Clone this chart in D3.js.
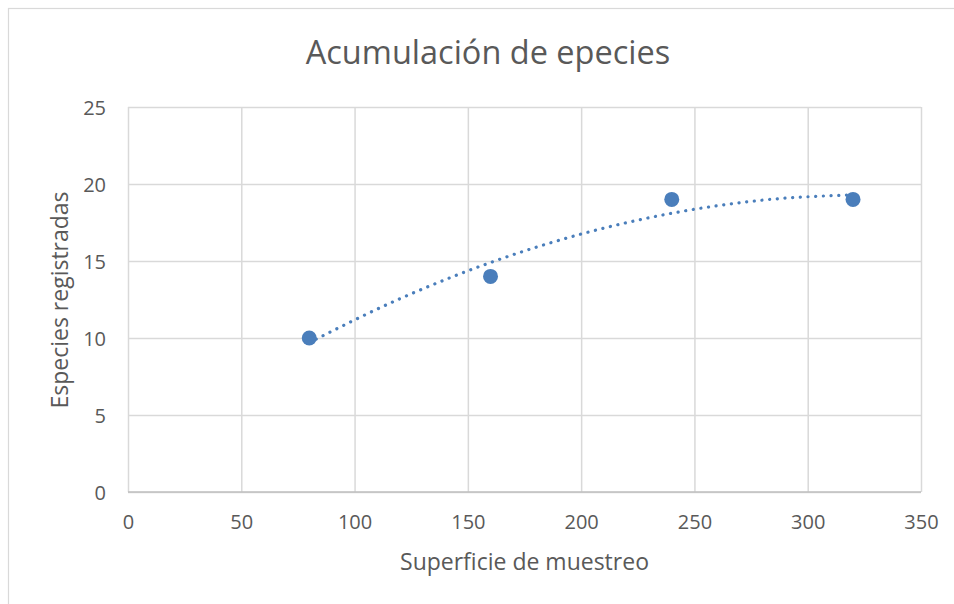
<!DOCTYPE html>
<html>
<head>
<meta charset="utf-8">
<script src="https://cdn.jsdelivr.net/npm/d3@7"></script>
<style>
  html, body { margin: 0; padding: 0; background: #fff; }
  svg { display: block; }
  text { font-family: "Open Sans", "Noto Sans", sans-serif; fill: #595959; }
</style>
</head>
<body>
<svg id="chart" width="954" height="604"></svg>
<script>
// Sampled surface vs. registered species
const surface = [80, 160, 240, 320];
const species = [10, 14, 19, 19];

// Polynomial trendline, sampled along the curve
const trendX = [80, 120, 160, 200, 240, 280, 320];
const trendY = [9.7, 12.55, 14.9, 16.75, 18.1, 18.95, 19.3];

const xTicks = [0, 50, 100, 150, 200, 250, 300, 350];
const yTicks = [0, 5, 10, 15, 20, 25];

const titleText = "Acumulación de epecies";
const xTitle = "Superficie de muestreo";
const yTitle = "Especies registradas";

const svg = d3.select("#chart");
const plot = { left: 128, right: 921, top: 107, bottom: 492 };

// Outer chart border
svg.append("rect")
  .attr("x", 8.5).attr("y", 8.5)
  .attr("width", 980).attr("height", 620)
  .attr("fill", "#fff")
  .attr("stroke", "#d9d9d9").attr("stroke-width", 1.2);

const x = d3.scaleLinear().domain([0, 350]).range([plot.left, plot.right]);
const y = d3.scaleLinear().domain([0, 25]).range([plot.bottom, plot.top]);

// Gridlines
const grid = svg.append("g");
grid.append("g")
  .attr("transform", `translate(0,${plot.bottom})`)
  .call(d3.axisBottom(x).tickValues(xTicks).tickSize(-(plot.bottom - plot.top)).tickFormat(""))
  .call(g => g.select(".domain").remove())
  .call(g => g.selectAll("line").attr("stroke", "#d9d9d9").attr("stroke-width", 1.5));
grid.append("g")
  .attr("transform", `translate(${plot.left},0)`)
  .call(d3.axisLeft(y).tickValues(yTicks).tickSize(-(plot.right - plot.left)).tickFormat(""))
  .call(g => g.select(".domain").remove())
  .call(g => g.selectAll("line").attr("stroke", "#d9d9d9").attr("stroke-width", 1.5));

// Horizontal axis line
svg.append("line")
  .attr("x1", plot.left).attr("x2", plot.right)
  .attr("y1", y(0)).attr("y2", y(0))
  .attr("stroke", "#bfbfbf").attr("stroke-width", 1.5);

// Tick labels
const xAxis = svg.append("g")
  .attr("transform", `translate(0,${plot.bottom})`)
  .call(d3.axisBottom(x).tickValues(xTicks).tickSize(0).tickPadding(0).tickFormat(d3.format("d")));
xAxis.select(".domain").remove();
xAxis.selectAll("text")
  .attr("y", 30).attr("dy", "0.35em")
  .style("font-size", "20px").style("font-family", "'Open Sans', sans-serif").attr("fill", "#595959");

const yAxis = svg.append("g")
  .attr("transform", `translate(${plot.left},0)`)
  .call(d3.axisLeft(y).tickValues(yTicks).tickSize(0).tickPadding(0).tickFormat(d3.format("d")));
yAxis.select(".domain").remove();
yAxis.selectAll("text")
  .attr("x", -22).attr("dy", "0.35em")
  .style("font-size", "20px").style("font-family", "'Open Sans', sans-serif").attr("fill", "#595959");

// Trendline (dotted)
const trend = trendX.map((d, i) => [d, trendY[i]]);
svg.append("path")
  .datum(trend)
  .attr("fill", "none")
  .attr("stroke", "#4a7ebb")
  .attr("stroke-width", 3.2)
  .attr("stroke-linecap", "round")
  .attr("stroke-dasharray", "0.1,7.6")
  .attr("d", d3.line().x(d => x(d[0])).y(d => y(d[1])).curve(d3.curveMonotoneX));

// Data points
svg.append("g")
  .selectAll("circle")
  .data(surface.map((d, i) => [d, species[i]]))
  .join("circle")
  .attr("cx", d => x(d[0]))
  .attr("cy", d => y(d[1]))
  .attr("r", 7.5)
  .attr("fill", "#4a7ebb");

// Titles
svg.append("text")
  .attr("x", 488).attr("y", 53).attr("dy", "0.35em")
  .attr("text-anchor", "middle")
  .style("font-size", "32.5px")
  .text(titleText);

svg.append("text")
  .attr("x", (plot.left + plot.right) / 2).attr("y", 562).attr("dy", "0.35em")
  .attr("text-anchor", "middle")
  .style("font-size", "23px")
  .text(xTitle);

svg.append("text")
  .attr("transform", `translate(60,300) rotate(-90)`)
  .attr("dy", "0.35em")
  .attr("text-anchor", "middle")
  .style("font-size", "23px")
  .text(yTitle);
</script>
</body>
</html>
